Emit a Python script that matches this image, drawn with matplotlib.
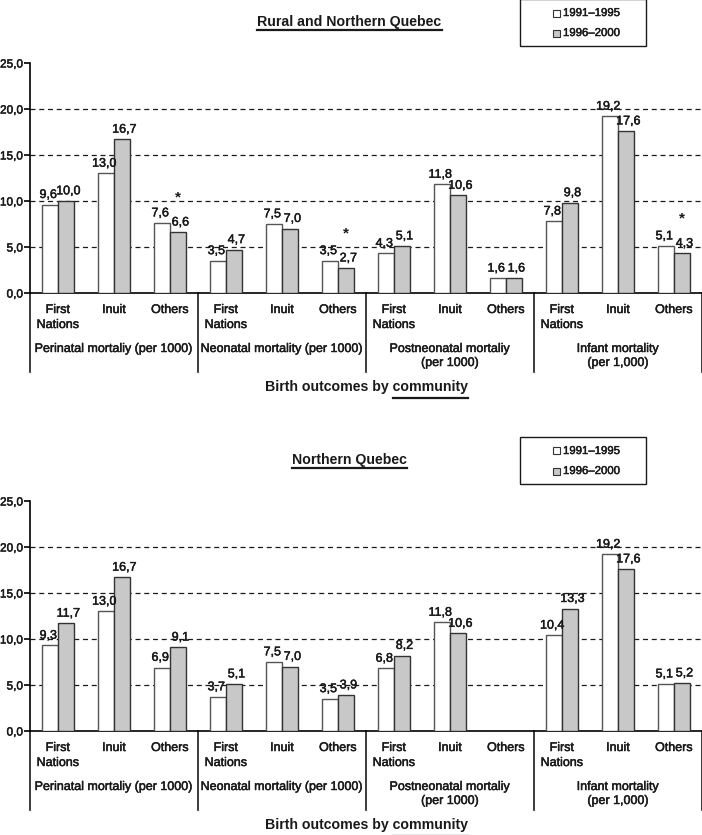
import matplotlib
matplotlib.use("Agg")
import matplotlib.pyplot as plt
import matplotlib.patheffects as pe
import numpy as np
from matplotlib.patches import Rectangle
from matplotlib.lines import Line2D

plt.rcParams['font.family'] = ['Liberation Sans', 'DejaVu Sans']

communities = ["First\nNations", "Inuit", "Others"]
outcomes = ["Perinatal mortaliy (per 1000)", "Neonatal mortality (per 1000)",
            "Postneonatal mortaliy\n(per 1000)", "Infant mortality\n(per 1,000)"]
series_names = ["1991\u20131995", "1996\u20132000"]
yticks = [0, 5, 10, 15, 20, 25]

# Rural and Northern Quebec
top_title = "Rural and Northern Quebec"
top_9195 = [9.6, 13.0, 7.6, 3.5, 7.5, 3.5, 4.3, 11.8, 1.6, 7.8, 19.2, 5.1]
top_9600 = [10.0, 16.7, 6.6, 4.7, 7.0, 2.7, 5.1, 10.6, 1.6, 9.8, 17.6, 4.3]
top_star_idx = [2, 5, 11]
top_star_y = [10.4, 6.5, 8.1]

# Northern Quebec
bot_title = "Northern Quebec"
bot_9195 = [9.3, 13.0, 6.9, 3.7, 7.5, 3.5, 6.8, 11.8, np.nan, 10.4, 19.2, 5.1]
bot_9600 = [11.7, 16.7, 9.1, 5.1, 7.0, 3.9, 8.2, 10.6, np.nan, 13.3, 17.6, 5.2]

W, H = 702, 835
fig = plt.figure(figsize=(W / 100, H / 100), dpi=100)

TXT = "#1a1a1a"
GRAY = "#c8c8c8"
EDGE = "#333333"
WEDGE = "#555555"
bw = 0.29
HEAVY = [pe.withStroke(linewidth=0.35, foreground=TXT)]


def fmt(v):
    return ("%.1f" % v).replace(".", ",")


def fx(px):
    return px / W


def fy(px):
    return 1 - px / H


def underline(text, y_px, sub=None):
    fig.canvas.draw()
    r = fig.canvas.get_renderer()
    bb = text.get_window_extent(renderer=r)
    x1 = bb.x1
    x0 = bb.x0
    if sub is not None:
        t2 = fig.text(0, 0, sub, fontsize=text.get_fontsize(), fontweight=text.get_fontweight())
        b2 = t2.get_window_extent(renderer=r)
        x0 = x1 - b2.width
        t2.remove()
    fig.add_artist(Line2D([x0 / W, x1 / W], [fy(y_px), fy(y_px)], color=TXT, lw=1.6,
                          transform=fig.transFigure))


def panel(bottom_px, top_px, title, v1, v2, off, stars=None, star_y=None):
    ax = fig.add_axes([fx(30), fy(bottom_px), 1 - fx(30), (bottom_px - top_px) / H])
    n = len(v1)
    x = np.arange(n) + 0.5
    v1 = np.array(v1, dtype=float)
    v2 = np.array(v2, dtype=float)
    ax.bar(x - bw / 2, v1, bw, color="white", edgecolor=WEDGE, linewidth=1.0, zorder=3)
    ax.bar(x + bw / 2, v2, bw, color=GRAY, edgecolor=EDGE, linewidth=1.0, zorder=3)
    for xi, a, b in zip(x, v1, v2):
        if not np.isnan(a):
            ax.text(xi - bw / 2 - 0.03, a + 0.4, fmt(a), ha="center", va="bottom",
                    fontsize=9, color=TXT, path_effects=HEAVY)
        if not np.isnan(b):
            ax.text(xi + bw / 2 + 0.04, b + 0.4, fmt(b), ha="center", va="bottom",
                    fontsize=9, color=TXT, path_effects=HEAVY)
    if stars:
        for i, sy in zip(stars, star_y):
            ax.text(x[i] + bw / 2, sy, "*", ha="center", va="center", fontsize=11,
                    color=TXT, fontweight="bold")
    ax.set_xlim(0, n)
    ax.set_ylim(0, 25)
    ax.set_yticks(yticks)
    ax.set_yticklabels([fmt(t) for t in yticks], fontsize=8.5, color=TXT)
    for lab in ax.get_yticklabels():
        lab.set_path_effects(HEAVY)
    for t in yticks[1:-1]:
        ax.axhline(t, color=TXT, lw=0.9, ls=(0, (4, 3)), zorder=1)
    for s in ["top", "right"]:
        ax.spines[s].set_visible(False)
    ax.spines["left"].set_linewidth(1.2)
    ax.spines["bottom"].set_linewidth(1.2)
    ax.tick_params(axis="y", length=4, width=1.2, direction="out", pad=1)
    ax.tick_params(axis="x", length=0, labelbottom=False)
    h_px = bottom_px - top_px

    def dy(px):
        return -px / h_px
    trans = ax.get_xaxis_transform()
    for i, c in enumerate(np.tile(communities, len(outcomes))):
        for k, line in enumerate(c.split("\n")):
            ax.text(x[i], dy(17 + 15 * k), line, transform=trans, ha="center",
                    va="center", fontsize=9, color=TXT, path_effects=HEAVY)
    for g, o in enumerate(outcomes):
        for k, line in enumerate(o.split("\n")):
            ax.text(g * 3 + 1.5, dy(56 + 14 * k), line, transform=trans, ha="center",
                    va="center", fontsize=9, color=TXT, path_effects=HEAVY)
    for g in range(len(outcomes) + 1):
        ax.plot([g * 3, g * 3], [0, dy(79)], transform=trans,
                color=TXT, lw=1.2, clip_on=False)
    # title
    t = fig.text(fx(349.5), fy(22 + off), title, ha="center", va="center",
                 fontsize=10.2, fontweight="bold", color=TXT)
    underline(t, 30 + off)
    b = fig.text(fx(367), fy(bottom_px + 94), "Birth outcomes by community",
                 ha="center", va="center", fontsize=10.2, fontweight="bold", color=TXT)
    underline(b, bottom_px + 105, "community")
    # legend box drawn manually
    fig.add_artist(Rectangle((fx(520), fy(46 + off)), fx(126), 47 / H,
                             transform=fig.transFigure, facecolor="white",
                             edgecolor=TXT, lw=1.0, clip_on=False))
    for k, (name, fc, ec) in enumerate(zip(series_names, ["white", GRAY], [EDGE, EDGE])):
        yc = 13 + 20 * k + off
        fig.add_artist(Rectangle((fx(553), fy(yc + 3.5)), fx(7), 7 / H,
                                 transform=fig.transFigure, facecolor=fc,
                                 edgecolor=ec, lw=0.8))
        fig.text(fx(563), fy(yc), name, ha="left", va="center", fontsize=8.2, color=TXT,
                 path_effects=HEAVY)
    return ax


panel(293, 63, top_title, top_9195, top_9600, 0, top_star_idx, top_star_y)
panel(731, 501, bot_title, bot_9195, bot_9600, 438)

fig.savefig("out.png", dpi=100)
